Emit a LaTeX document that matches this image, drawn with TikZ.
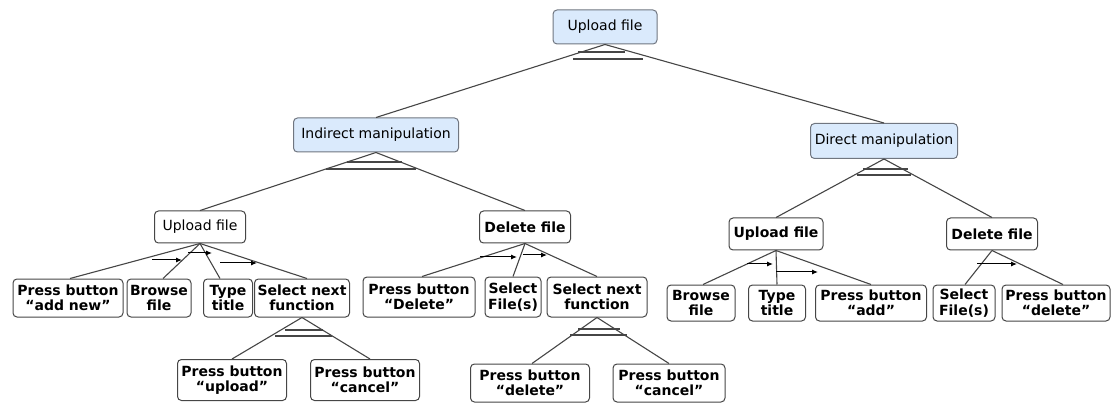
\documentclass[tikz,border=0pt]{standalone}
\usepackage{fontspec}
\setmainfont{DejaVu Sans}
\usetikzlibrary{arrows.meta}
\definecolor{abfill}{RGB}{218,234,252}
\definecolor{abline}{RGB}{112,118,128}
\definecolor{inkline}{RGB}{70,70,70}
\begin{document}
\begin{tikzpicture}[x=1pt,y=-1pt,
  abstract/.style={draw=abline, fill=abfill, rounded corners=4pt, line width=1pt,
    inner sep=0pt, font=\fontsize{14}{15}\selectfont},
  plaintask/.style={draw=inkline, fill=white, rounded corners=4pt, line width=1pt,
    inner sep=0pt, align=center, font=\fontsize{14}{15}\selectfont},
  task/.style={plaintask, font=\bfseries\fontsize{14}{15.5}\selectfont},
  link/.style={draw=inkline, line width=1.1pt},
  choice/.style={draw=inkline, line width=1.1pt},
  enable/.style={draw=black, line width=1pt, -{Latex[length=6pt,width=5pt]}}]
\useasboundingbox (0,0) rectangle (1113,403);

% level 1 and 2
\node[abstract, minimum width=104pt, minimum height=34pt] (root) at (605,27) {Upload file};
\node[abstract, minimum width=165pt, minimum height=34pt] (ind) at (376,135) {Indirect manipulation};
\node[abstract, minimum width=147pt, minimum height=35pt] (dir) at (884,141) {Direct manipulation};

% indirect manipulation subtasks
\node[plaintask, minimum width=91pt, minimum height=32pt] (iup) at (200,227) {Upload file};
\node[task, minimum width=91pt, minimum height=32pt] (idel) at (525,227) {Delete file};

\node[task, minimum width=110pt, minimum height=38pt] (ipb) at (68,298) {Press button\\“add new”};
\node[task, minimum width=64pt, minimum height=38pt] (ibr) at (159,298) {Browse\\file};
\node[task, minimum width=49pt, minimum height=38pt] (ity) at (228,298) {Type\\title};
\node[task, minimum width=95pt, minimum height=38pt] (isel) at (302,298) {Select next\\function};
\node[task, minimum width=109pt, minimum height=41pt] (iupl) at (232,380) {Press button\\“upload”};
\node[task, minimum width=109pt, minimum height=41pt] (ican) at (365,380) {Press button\\“cancel”};

\node[task, minimum width=112pt, minimum height=40pt] (idpb) at (419,297) {Press button\\“Delete”};
\node[task, minimum width=56pt, minimum height=40pt] (idsf) at (513,297) {Select\\File(s)};
\node[task, minimum width=100pt, minimum height=40pt] (idsel) at (597,297) {Select next\\function};
\node[task, minimum width=119pt, minimum height=38pt] (iddel) at (530,383) {Press button\\“delete”};
\node[task, minimum width=112pt, minimum height=38pt] (idcan) at (669,383) {Press button\\“cancel”};

% direct manipulation subtasks
\node[task, minimum width=94pt, minimum height=32pt] (dup) at (776,234) {Upload file};
\node[task, minimum width=91pt, minimum height=32pt] (ddel) at (992,234) {Delete file};
\node[task, minimum width=68pt, minimum height=36pt] (dbr) at (701,303) {Browse\\file};
\node[task, minimum width=57pt, minimum height=36pt] (dty) at (777,303) {Type\\title};
\node[task, minimum width=111pt, minimum height=36pt] (dadd) at (871,303) {Press button\\“add”};
\node[task, minimum width=62pt, minimum height=36pt] (dsf) at (964,303) {Select\\File(s)};
\node[task, minimum width=108pt, minimum height=36pt] (ddl) at (1056,303) {Press button\\“delete”};

% tree edges
\draw[link] (root.south) -- (ind.north);
\draw[link] (root.south) -- (dir.north);
\draw[link] (ind.south) -- (iup.north);
\draw[link] (ind.south) -- (idel.north);
\draw[link] (dir.south) -- (dup.north);
\draw[link] (dir.south) -- (ddel.north);
\draw[link] (iup.south) -- ([xshift=2pt]ipb.north);
\draw[link] (iup.south) -- ([xshift=4pt]ibr.north);
\draw[link] (iup.south) -- ([xshift=-8pt]ity.north);
\draw[link] (iup.south) -- ([xshift=5pt]isel.north);
\draw[link] (isel.south) -- (iupl.north);
\draw[link] (isel.south) -- ([xshift=5pt]ican.north);
\draw[link] (idel.south) -- ([xshift=3pt]idpb.north);
\draw[link] (idel.south) -- (idsf.north);
\draw[link] (idel.south) -- (idsel.north);
\draw[link] (idsel.south) -- ([xshift=2pt]iddel.north);
\draw[link] (idsel.south) -- (idcan.north);
\draw[link] (dup.south) -- ([xshift=2pt]dbr.north);
\draw[link] (dup.south) -- (dty.north);
\draw[link] (dup.south) -- (dadd.north);
\draw[link] (ddel.south) -- ([xshift=1pt]dsf.north);
\draw[link] (ddel.south) -- ([xshift=7pt]ddl.north);

% choice operators
\draw[choice] (578,52) -- (625,52) (573,59) -- (643,59);
\draw[choice] (347,162) -- (402,162) (326,169) -- (416,169);
\draw[choice] (863,169) -- (908,169) (857,175) -- (911,175);
\draw[choice] (285,330) -- (323,330) (275,336) -- (332,336);
\draw[choice] (578,329) -- (620,329) (570,335) -- (627,335);

% enabling operators
\draw[enable] (152,260) -- (182,260);
\draw[enable] (188,253) -- (212,253);
\draw[enable] (220,263) -- (257,263);
\draw[enable] (480,257) -- (517,257);
\draw[enable] (523,255) -- (547,255);
\draw[enable] (747,264) -- (773,264);
\draw[enable] (776,272) -- (818,272);
\draw[enable] (977,264) -- (1017,264);
\end{tikzpicture}
\end{document}
